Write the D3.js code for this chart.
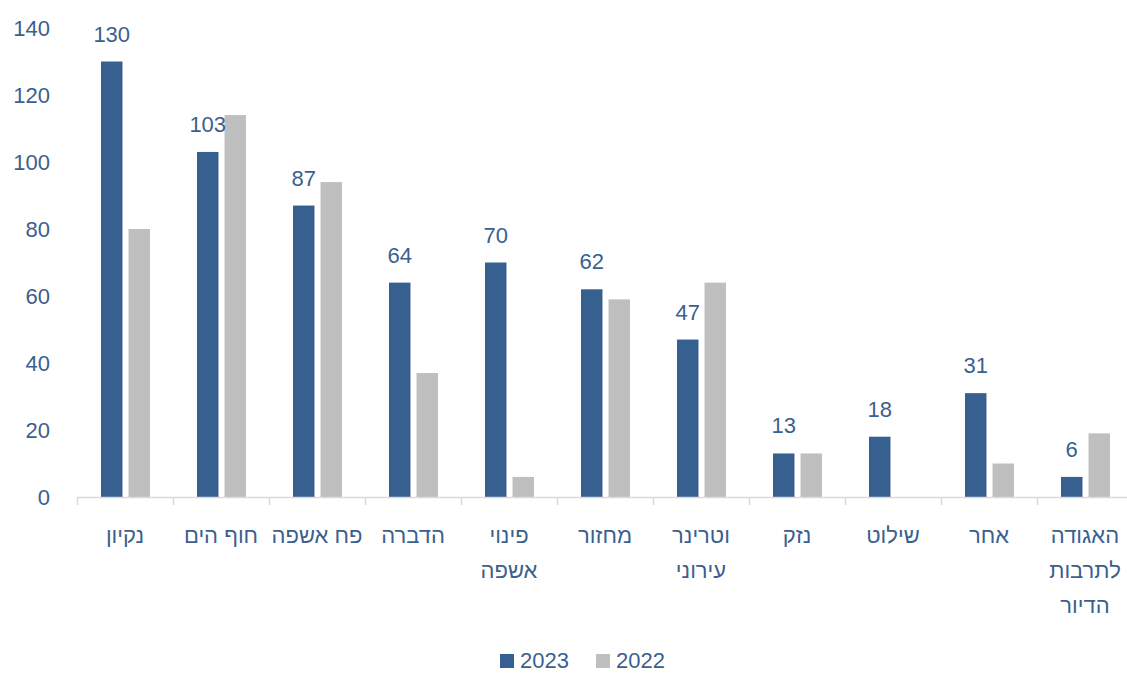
<!DOCTYPE html>
<html>
<head>
<meta charset="utf-8">
<script src="https://cdn.jsdelivr.net/npm/d3@7"></script>
<style>
	body { margin: 0; background: #fff; }
	svg text { font-family: "Liberation Sans", "DejaVu Sans", sans-serif; fill: #3b5f8e; }
</style>
</head>
<body>
<svg id="chart" width="1127" height="673"></svg>
<script>
// categories, right to left in the source, drawn left to right here; "\n" marks a line break
var categories = ["נקיון", "חוף הים", "פח אשפה", "הדברה", "פינוי\nאשפה", "מחזור",
	"וטרינר\nעירוני", "נזק", "שילוט", "אחר", "האגודה\nלתרבות\nהדיור"];
var values2023 = [130, 103, 87, 64, 70, 62, 47, 13, 18, 31, 6];
var values2022 = [80, 114, 94, 37, 6, 59, 64, 13, 0, 10, 19];
var seriesNames = ["2023", "2022"];
var yTicks = [0, 20, 40, 60, 80, 100, 120, 140];

var colors = { "2023": "#36608f", "2022": "#bfbfbf" };

var svg = d3.select("#chart");

var x = d3.scaleBand()
	.domain(categories)
	.range([77, 1133])
	.paddingInner(0)
	.paddingOuter(0);

var xInner = d3.scaleBand()
	.domain(seriesNames)
	.range([24, 73])
	.paddingInner(0.22);

var y = d3.scaleLinear()
	.domain([0, 140])
	.range([497, 28]);

// y tick labels (no axis line, no grid)
svg.append("g").selectAll("text")
	.data(yTicks)
	.enter().append("text")
	.attr("x", 50)
	.attr("y", function(d) { return y(d); })
	.attr("dy", "0.35em")
	.attr("text-anchor", "end")
	.style("font-size", "22px")
	.text(function(d) { return d; });

// bars
var rows = categories.map(function(c, i) {
	return { cat: c, vals: [
		{ series: "2023", value: values2023[i] },
		{ series: "2022", value: values2022[i] }
	]};
});

var groups = svg.append("g").selectAll("g")
	.data(rows)
	.enter().append("g")
	.attr("transform", function(d) { return "translate(" + x(d.cat) + ",0)"; });

groups.selectAll("rect")
	.data(function(d) { return d.vals; })
	.enter().append("rect")
	.attr("x", function(d) { return xInner(d.series); })
	.attr("y", function(d) { return y(d.value); })
	.attr("width", xInner.bandwidth())
	.attr("height", function(d) { return y(0) - y(d.value); })
	.style("fill", function(d) { return colors[d.series]; });

// data labels on 2023 only
groups.append("text")
	.attr("x", xInner("2023") + xInner.bandwidth() / 2)
	.attr("y", function(d) { return y(d.vals[0].value) - 20; })
	.attr("text-anchor", "middle")
	.style("font-size", "22px")
	.text(function(d) { return d.vals[0].value; });

// x axis line and boundary ticks
var axis = svg.append("g");
axis.append("line")
	.attr("x1", x.range()[0]).attr("x2", x.range()[1])
	.attr("y1", y(0) + 0.5).attr("y2", y(0) + 0.5)
	.style("stroke", "#d9d9d9").style("stroke-width", 1.5);
axis.selectAll("line.tick")
	.data(categories)
	.enter().append("line")
	.attr("class", "tick")
	.attr("x1", function(d) { return x(d) + 0.5; })
	.attr("x2", function(d) { return x(d) + 0.5; })
	.attr("y1", y(0)).attr("y2", y(0) + 8)
	.style("stroke", "#d9d9d9").style("stroke-width", 1.5);

// category labels
var labels = svg.append("g").selectAll("text")
	.data(categories)
	.enter().append("text")
	.attr("text-anchor", "middle")
	.attr("direction", "rtl")
	.style("font-size", "22px");
labels.selectAll("tspan")
	.data(function(d) { return d.split("\n").map(function(l) { return { line: l, cat: d }; }); })
	.enter().append("tspan")
	.attr("x", function(d) { return x(d.cat) + x.bandwidth() / 2; })
	.attr("y", function(d, i) { return 543 + i * 35; })
	.text(function(d) { return d.line; });

// legend
var legend = svg.append("g").attr("transform", "translate(500,661)");
var legendItems = legend.selectAll("g")
	.data(seriesNames)
	.enter().append("g")
	.attr("transform", function(d, i) { return "translate(" + (i * 96) + ",0)"; });
legendItems.append("rect")
	.attr("x", 0).attr("y", -7)
	.attr("width", 14).attr("height", 14)
	.style("fill", function(d) { return colors[d]; });
legendItems.append("text")
	.attr("x", 20).attr("y", 7)
	.style("font-size", "22px")
	.text(function(d) { return d; });
</script>
</body>
</html>
